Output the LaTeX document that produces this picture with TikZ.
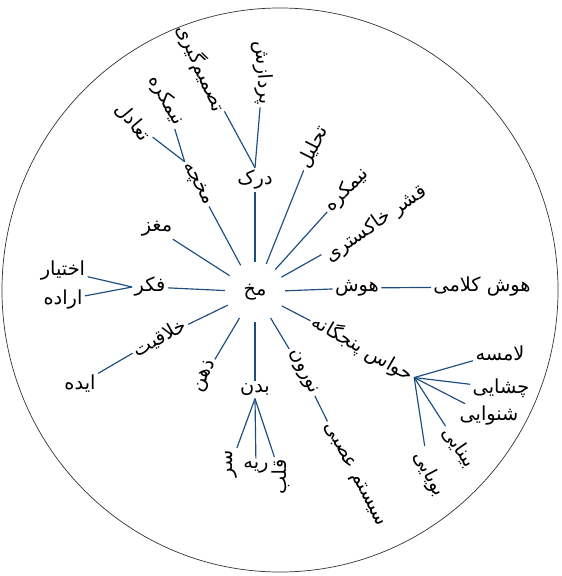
\documentclass[tikz,border=0pt]{standalone}
\usepackage{fontspec}
\newfontfamily\fafont[Script=Arabic]{DejaVu Sans}
\TeXXeTstate=1
\usetikzlibrary{positioning}
\definecolor{linkblue}{RGB}{28,78,128}
\newcommand{\fa}[1]{{\fafont\beginR #1\endR}}

\begin{document}
\begin{tikzpicture}[x=0.03cm, y=-0.03cm,
		word/.style={font=\fontsize{16.5}{18}\selectfont, inner sep=2pt},
		link/.style={linkblue, line width=1pt}]
				\useasboundingbox (0,0) rectangle (562,576);
				\draw[black!80, line width=0.6pt] (280,290) ellipse [x radius=8.34cm, y radius=8.46cm];
				\node[word, shape=circle, minimum size=1.8cm] (mokh) at (255,292) {\fa{مخ}};
				\node[word] (fekr) at (150,287) {\fa{فکر}};
				\node[word] (ekhtiar) at (63,271) {\fa{اختیار}};
				\node[word] (eradeh) at (63,300) {\fa{اراده}};
				\node[word] (maghz) at (157,229) {\fa{مغز}};
				\node[word, rotate=-61] (mokhcheh) at (197,184) {\fa{مخچه}};
				\node[word, rotate=-60] (nimkoreA) at (166,100) {\fa{نیمکره}};
				\node[word, rotate=-50] (tadol) at (133,122) {\fa{تعادل}};
				\node[word] (darak) at (255,180) {\fa{درک}};
				\node[word, rotate=-66] (tasmim) at (201,68) {\fa{تصمیم‌گیری}};
				\node[word, rotate=-86] (pardazesh) at (263,73) {\fa{پردازش}};
				\node[word, rotate=63] (tahlil) at (313,147) {\fa{تحلیل}};
				\node[word, rotate=45] (nimkoreB) at (347,190) {\fa{نیمکره}};
				\node[word, rotate=35] (ghesher) at (376,224) {\fa{قشر خاکستری}};
				\node[word] (hoosh) at (357,288) {\fa{هوش}};
				\node[word] (kalami) at (482,287) {\fa{هوش کلامی}};
				\node[word, rotate=-30] (havas) at (363,348) {\fa{حواس پنجگانه}};
				\node[word] (lamese) at (500,353) {\fa{لامسه}};
				\node[word] (chashaei) at (501,388) {\fa{چشایی}};
				\node[word] (shenavaei) at (489,416) {\fa{شنوایی}};
				\node[word, rotate=-55] (binaei) at (459,447) {\fa{بینایی}};
				\node[word, rotate=-62] (booyaei) at (429,474) {\fa{بویایی}};
				\node[word, rotate=-65] (noron) at (303,372) {\fa{نورون}};
				\node[word, rotate=-62] (asabi) at (354,475) {\fa{سیستم عصبی}};
				\node[word] (badan) at (255,390) {\fa{بدن}};
				\node[word, rotate=90] (sar) at (231,464) {\fa{سر}};
				\node[word] (rie) at (256,467) {\fa{ریه}};
				\node[word, rotate=90] (ghalb) at (281,477) {\fa{قلب}};
				\node[word, rotate=62] (zehn) at (205,376) {\fa{ذهن}};
				\node[word, rotate=29] (khalaghiat) at (160,338) {\fa{خلاقیت}};
				\node[word] (ideh) at (80,384) {\fa{ایده}};
				\draw[link] (mokh) -- (fekr);
				\draw[link] (fekr.west) -- (ekhtiar);
				\draw[link] (fekr.west) -- (eradeh);
				\draw[link] (mokh) -- (maghz);
				\draw[link] (mokh) -- (mokhcheh);
				\draw[link] (mokhcheh.west) -- (nimkoreA);
				\draw[link] (mokhcheh.west) -- (tadol);
				\draw[link] (mokh) -- (darak);
				\draw[link] (darak.north) -- (tasmim);
				\draw[link] (darak.north) -- (pardazesh);
				\draw[link] (mokh) -- (tahlil);
				\draw[link] (mokh) -- (nimkoreB);
				\draw[link] (mokh) -- (ghesher);
				\draw[link] (mokh) -- (hoosh);
				\draw[link] (hoosh) -- (kalami);
				\draw[link] (mokh) -- (havas);
				\draw[link] (havas.east) -- (lamese);
				\draw[link] (havas.east) -- (chashaei);
				\draw[link] (havas.east) -- (shenavaei);
				\draw[link] (havas.east) -- (binaei);
				\draw[link] (havas.east) -- (booyaei);
				\draw[link] (mokh) -- (noron);
				\draw[link] (noron) -- (asabi);
				\draw[link] (mokh) -- (badan);
				\draw[link] (badan.south) -- (sar);
				\draw[link] (badan.south) -- (rie);
				\draw[link] (badan.south) -- (ghalb);
				\draw[link] (mokh) -- (zehn);
				\draw[link] (mokh) -- (khalaghiat);
				\draw[link] (khalaghiat.west) -- (ideh);
			\end{tikzpicture}
\end{document}
